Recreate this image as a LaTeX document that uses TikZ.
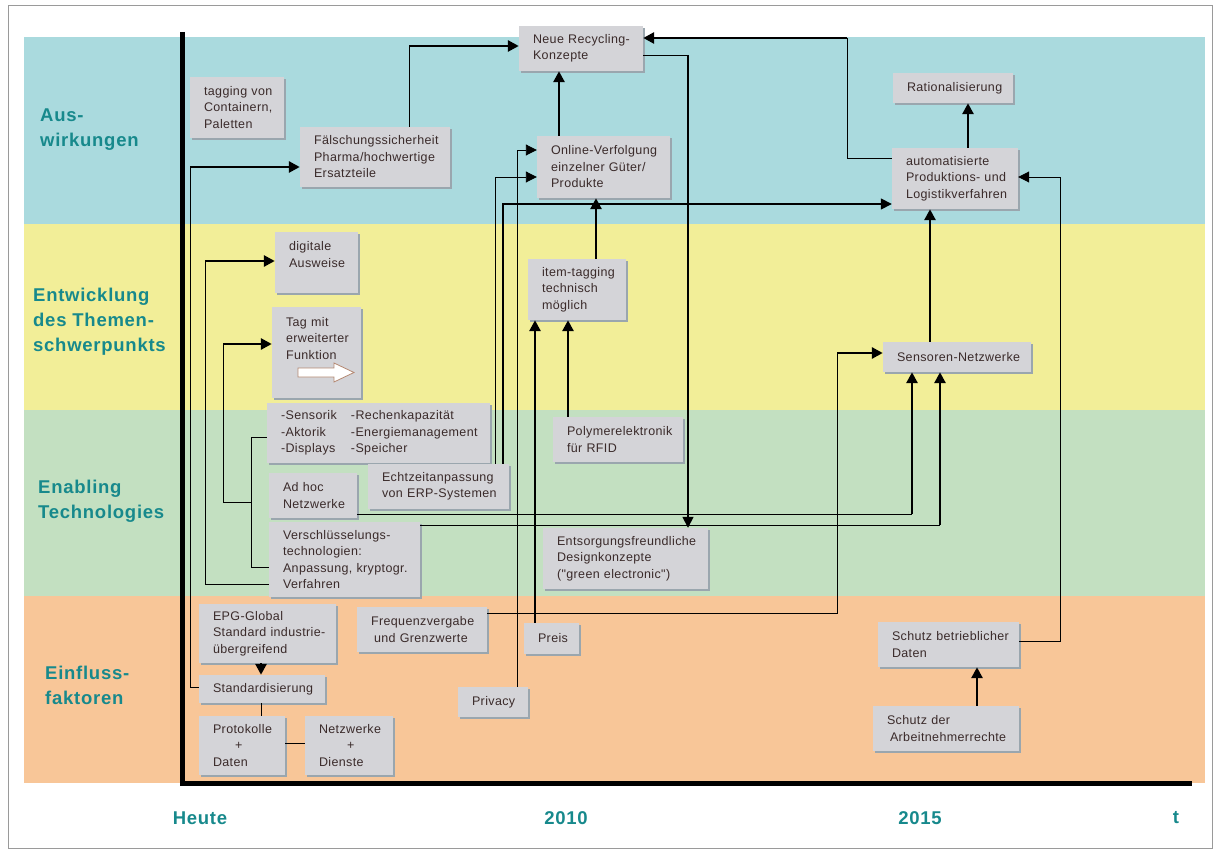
\documentclass[tikz,border=0pt]{standalone}
\usepackage{fontspec}
\setmainfont{Liberation Sans}
\newfontfamily\boxfam[LetterSpace=3]{Liberation Sans}
\newfontfamily\lblfam[LetterSpace=4]{Liberation Sans}
\usetikzlibrary{arrows.meta,shadows,calc}
\definecolor{bandA}{HTML}{AADADE}
\definecolor{bandB}{HTML}{F2EE98}
\definecolor{bandC}{HTML}{C3E0C1}
\definecolor{bandD}{HTML}{F8C698}
\definecolor{boxgray}{HTML}{D4D4D8}
\definecolor{shadowc}{HTML}{9AA6AE}
\definecolor{boxtext}{HTML}{3A2A2A}
\definecolor{tealc}{HTML}{17898C}
\definecolor{framec}{HTML}{9A9A9A}
\definecolor{arrowedge}{HTML}{B48872}
\newcommand\mybox[6]{%
  \pgfmathsetmacro\bxw{#4-#2}%
  \pgfmathsetmacro\bxh{#5-#3}%
  \pgfmathsetmacro\bxt{#4-#2-28}%
  \pgfmathsetmacro\bxx{(#2+#4)/2}%
  \pgfmathsetmacro\bxy{(#3+#5)/2}%
  \node[box,minimum width=\bxw pt,minimum height=\bxh pt,text width=\bxt pt] (#1) at (\bxx,\bxy) {#6};}
\tikzset{
  box/.style={rectangle, fill=boxgray, inner xsep=14pt, inner ysep=0pt, align=left,
    text=boxtext,
    font={\boxfam\fontsize{12.5}{16.5}\selectfont\hyphenpenalty=10000 \exhyphenpenalty=10000 },
    drop shadow={shadow xshift=2pt, shadow yshift=-2pt, fill=shadowc, opacity=1}},
  thinln/.style={line width=0.9pt, draw=black},
  medln/.style={line width=1.6pt, draw=black},
  thickln/.style={line width=2.8pt, draw=black},
  arr/.style={-{Triangle[length=11pt,width=11pt]}},
  lbl/.style={font={\lblfam\bfseries\fontsize{18.5}{25}\selectfont}, text=tealc, align=left, anchor=west, inner sep=0pt},
  tlbl/.style={font={\lblfam\bfseries\fontsize{18.5}{20}\selectfont}, text=tealc, inner sep=0pt},
}
\begin{document}
\begin{tikzpicture}[x=1pt,y=-1pt]
\useasboundingbox (0,0) rectangle (1218,853);
\fill[white] (0,0) rectangle (1218,853);
\draw[framec, line width=1pt] (8,6) rectangle (1212,848);
% bands
\fill[bandA] (24,37) rectangle (1205,224);
\fill[bandB] (24,224) rectangle (1205,410);
\fill[bandC] (24,410) rectangle (1205,596);
\fill[bandD] (24,596) rectangle (1205,783);
% band labels
\node[lbl] (lA) at (40,129.5) {Aus-\\wirkungen};
\node[lbl] (lB) at (33,322) {Entwicklung\\des Themen-\\schwerpunkts};
\node[lbl] (lC) at (38,501) {Enabling\\Technologies};
\node[lbl] (lD) at (45,685.5) {Einfluss-\\faktoren};
% boxes
\mybox{tagc}{190}{77}{284}{138}{tagging~von\\Containern,\\Paletten}
\mybox{faelsch}{300}{127}{450}{187}{Fälschungssicherheit\\Pharma/hochwertige\\Ersatzteile}
\mybox{recyc}{519}{26}{643}{71}{Neue~Recycling-\\Konzepte}
\mybox{online}{537}{136}{670}{198}{Online-Verfolgung\\einzelner~Güter/\\Produkte}
\mybox{ratio}{893}{73}{1013}{103}{Rationalisierung}
\mybox{auto}{892}{148}{1018}{209}{automatisierte\\Produktions-~und\\Logistikverfahren}
\mybox{digi}{275}{232}{358}{293}{digitale\\Ausweise\\\mbox{}}
\mybox{tagfn}{272}{307}{361}{398}{Tag~mit\\erweiterter\\Funktion\\[12pt]\mbox{}}
\mybox{item}{528}{259}{626}{320}{item-tagging\\technisch\\möglich}
\mybox{sensor}{883}{342}{1031}{372}{Sensoren-Netzwerke}
\mybox{sensorik}{267}{403}{490}{463}{\begin{tabular}{@{}p{70pt}@{}l@{}}-Sensorik & -Rechenkapazität\\ -Aktorik & -Energiemanagement\\ -Displays & -Speicher\end{tabular}}
\mybox{echt}{368}{464}{509}{509}{Echtzeitanpassung\\von~ERP-Systemen}
\mybox{adhoc}{269}{473}{357}{518}{Ad~hoc\\Netzwerke}
\mybox{poly}{553}{417}{683}{462}{Polymerelektronik\\für~RFID}
\mybox{versch}{269}{522}{420}{597}{Verschlüsselungs-\\technologien:\\Anpassung,~kryptogr.\\Verfahren}
\mybox{entsorg}{543}{528}{708}{589}{Entsorgungsfreundliche\\Designkonzepte\\("green~electronic")}
\mybox{epg}{199}{604}{336}{663}{EPG-Global\\Standard~industrie-\\übergreifend}
\mybox{freq}{357}{607}{487}{652}{Frequenzvergabe\\\hspace*{3pt}und~Grenzwerte}
\mybox{preis}{524}{623}{579}{654}{Preis}
\mybox{priv}{458}{687}{528}{717}{Privacy}
\mybox{std}{199}{675}{325}{703}{Standardisierung}
\mybox{proto}{199}{716}{285}{775}{Protokolle\\\hspace*{22pt}+\\Daten}
\mybox{netz}{305}{716}{393}{775}{Netzwerke\\\hspace*{28pt}+\\Dienste}
\mybox{schutzb}{878}{622}{1019}{667}{Schutz~betrieblicher\\Daten}
\mybox{schutza}{873}{706}{1019}{751}{Schutz~der\\\hspace*{3pt}Arbeitnehmerrechte}
% white block arrow in Tag box
\draw[fill=white, draw=arrowedge, line width=0.8pt, line join=miter]
  (298,368) -- (334,368) -- (334,363) -- (354,372.5) -- (334,382) -- (334,377) -- (298,377) -- cycle;
% connector junctions
\coordinate (j1) at (190,167);
\coordinate (j2) at (409,46);
\coordinate (j4) at (688,55);
\coordinate (j5) at (847,38);
\coordinate (j8) at (1060,177);
\coordinate (j10) at (517,150);
\coordinate (j16) at (837,353);
\coordinate (j17) at (912,514);
\coordinate (j18) at (940,525);
\coordinate (j19) at (205,261);
\coordinate (j20a) at (251,437);
\coordinate (j20b) at (251,567);
\coordinate (j20c) at (251,502);
\coordinate (j20d) at (223,344);
% connectors
\draw[thinln] (std.west |- 0,687) -| (j1);
\draw[thickln,arr] (j1) -- (faelsch.west |- j1);
\draw[thinln] (faelsch.north -| j2) -- (j2);
\draw[thickln,arr] (j2) -- (recyc.west |- j2);
\draw[thickln,arr] (online.north -| 559,0) -- (recyc.south -| 559,0);
\draw[thinln] (recyc.east |- j4) -- (j4);
\draw[medln,arr] (j4) -- (entsorg.north -| j4);
\draw[thinln] (auto.west |- 0,158) -| (j5);
\draw[thickln,arr] (j5) -- (recyc.east |- j5);
\draw[thickln,arr] (auto.north -| 968,0) -- (ratio.south -| 968,0);
\draw[thickln,arr] (sensor.north -| 930,0) -- (auto.south -| 930,0);
\draw[thinln,arr] (schutzb.east |- 0,641) -| (j8) -- (auto.east |- j8);
\draw[thickln,arr] (schutza.north -| 977,0) -- (schutzb.south -| 977,0);
\draw[thinln,arr] (priv.north -| j10) |- (online.west |- j10);
\draw[thinln,arr] (echt.north -| 495,0) |- (online.west |- 0,177);
\draw[medln,arr] (echt.north -| 503,0) |- (auto.west |- 0,204);
\draw[thickln,arr] (item.north -| 596,0) -- (online.south -| 596,0);
\draw[thickln,arr] (poly.north -| 568,0) -- (item.south -| 568,0);
\draw[thickln,arr] (preis.north -| 535,0) -- (item.south -| 535,0);
\draw[thinln] (freq.east |- 0,613) -| (j16);
\draw[thickln,arr] (j16) -- (sensor.west |- j16);
\draw[thinln] (adhoc.east |- j17) -- (j17);
\draw[thickln,arr] (j17) -- (sensor.south -| j17);
\draw[thinln] (versch.east |- j18) -- (j18);
\draw[thickln,arr] (j18) -- (sensor.south -| j18);
\draw[thinln] (versch.west |- 0,584) -| (j19);
\draw[thickln,arr] (j19) -- (digi.west |- j19);
\draw[thinln] (sensorik.west |- j20a) -- (j20a) -- (j20b) -- (versch.west |- j20b);
\draw[thinln] (j20c) -| (j20d);
\draw[thickln,arr] (j20d) -- (tagfn.west |- j20d);
\draw[thickln,arr] (epg.south -| 261,0) -- (std.north -| 261,0);
\draw[thinln] (std.south -| 261,0) -- (proto.north -| 261,0);
\draw[thinln] (proto.east |- 0,743) -- (netz.west |- 0,743);
% axes
\draw[line width=5pt, line join=miter] (182,32) -- (182,783) -- (1192,783);
% time labels
\node[tlbl] (tHeute) at (200,818) {Heute};
\node[tlbl] (t2010) at (566,818) {2010};
\node[tlbl] (t2015) at (920,818) {2015};
\node[tlbl] (tT) at (1176,818) {t};
\end{tikzpicture}
\end{document}
